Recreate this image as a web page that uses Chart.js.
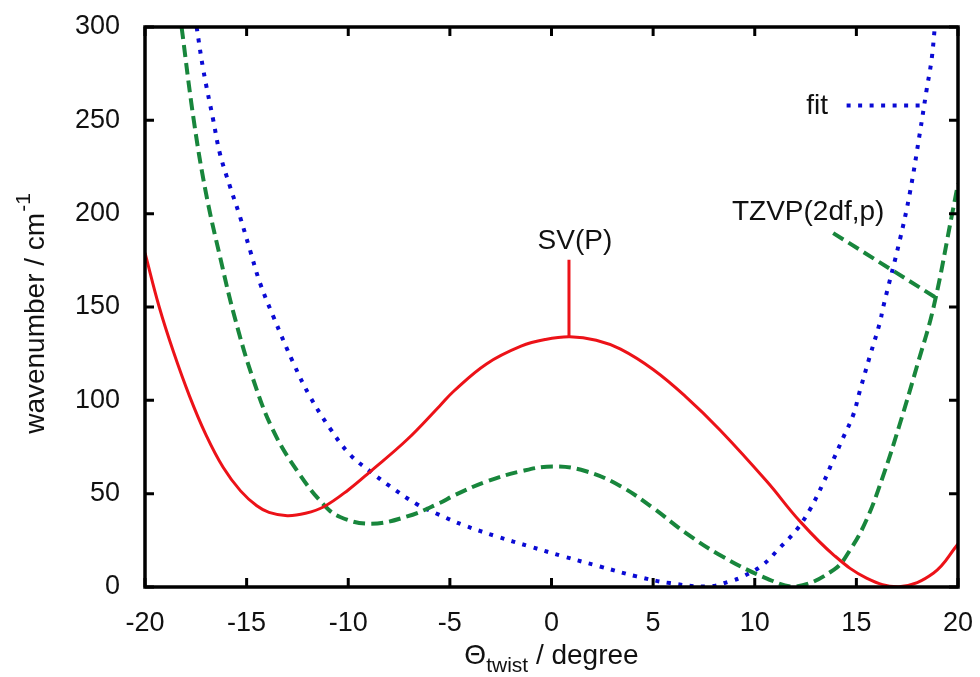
<!DOCTYPE html>
<html>
<head>
<meta charset="utf-8">
<script src="https://cdn.jsdelivr.net/npm/chart.js@4.4.1/dist/chart.umd.min.js"></script>
<style>
html, body { margin: 0; padding: 0; background: #fff; }
#wrap { width: 980px; height: 677px; }
</style>
</head>
<body>
<div id="wrap"><canvas id="twistChart" width="980" height="677"></canvas></div>
<script>
// SV(P) curve (solid red)
const svpTheta = [-20, -19.3, -18.6, -17.8, -17.0, -16.15, -15.3, -14.5, -13.9, -13.0, -12.1, -11.2, -10.0, -8.9, -7.1, -5.5, -4.8, -3.2, -1.5, -0.3, 0.9, 2.2, 3.4, 5.0, 6.6, 8.3, 10.6, 12.2, 13.9, 15.5, 17.1, 18.8, 20];
const svpWave  = [179, 150, 126, 102, 81.5, 64, 51.5, 43.5, 40, 38.2, 39.5, 43, 52, 62, 79, 97, 105, 119.5, 129, 132.6, 134, 132.2, 127.4, 116.5, 102, 84, 56.5, 35.5, 17, 4.8, 0.2, 7.5, 23];

// TZVP(2df,p) curve (dashed green)
const tzvpTheta = [-18.2, -17.6, -17.0, -16.3, -15.6, -14.7, -13.7, -12.5, -11.2, -10.4, -8.9, -7.1, -5.5, -4.8, -3.2, -1.5, 0.1, 1.7, 3.4, 5.0, 6.6, 8.3, 10.6, 12.0, 13.9, 14.7, 15.5, 16.3, 17.1, 18.0, 18.8, 19.75, 20];
const tzvpWave  = [300, 250, 211, 176.5, 145, 112, 84, 62, 44, 37.5, 33.9, 37.8, 45, 49, 56.5, 62, 64.6, 62, 54, 42.3, 29, 17, 4.5, 0.2, 9.3, 20, 36, 59, 86, 119, 150, 202, 216];

// fit curve (dotted blue)
const fitTheta = [-17.46, -17.13, -16.64, -16.31, -15.82, -15.33, -14.84, -14.34, -13.69, -12.7, -11.88, -10.9, -9.92, -8.93, -7.95, -6.64, -5.49, -4.34, -2.7, -1.06, 0.58, 2.38, 4.19, 5.82, 7.7, 8.77, 9.43, 10.41, 11.23, 12.06, 12.71, 13.37, 13.86, 14.35, 14.84, 15.17, 15.66, 16.15, 16.32, 17.14, 17.63, 18.12, 18.45, 18.7, 18.86];
const fitWave  = [300, 277, 250, 232, 214.6, 198.5, 180.7, 162.8, 145, 120, 102, 85, 71, 62, 54, 44.5, 38.5, 33.2, 27.1, 21.7, 16.4, 11, 5.7, 2.1, 0.3, 3, 5.7, 12, 21, 30.7, 41.4, 55.7, 68, 80, 92, 105, 123.5, 141.4, 150, 186, 211, 243, 266, 282.5, 300];

// label leader lines
const svpLeaderTheta = [0.86, 0.86];
const svpLeaderWave = [175.3, 133.8];
const tzvpLeaderTheta = [13.86, 18.94];
const tzvpLeaderWave = [189.6, 154.8];
const fitLeaderTheta = [14.52, 18.34];
const fitLeaderWave = [258, 258];

// label texts and anchors (data units)
const labelText = ['SV(P)', 'TZVP(2df,p)', 'fit'];
const labelTheta = [1.15, 12.63, 13.6];
const labelWave = [185, 200.5, 257.4];

// tick values
const xTickValues = [-20, -15, -10, -5, 0, 5, 10, 15, 20];
const yTickValues = [0, 50, 100, 150, 200, 250, 300];

const RED = 'rgb(236,18,24)';
const GREEN = 'rgb(24,134,60)';
const BLUE = 'rgb(10,10,212)';
const FONT = '"Liberation Sans", Arial, Helvetica, sans-serif';

function toPoints(xs, ys) {
    return xs.map((v, i) => ({ x: v, y: ys[i] }));
}

function noOverhang(s) {
    s.paddingTop = 0; s.paddingBottom = 0; s.paddingLeft = 0; s.paddingRight = 0;
}

const frame = {
    id: 'frame',
    afterDatasetsDraw(chart) {
        const { ctx, chartArea: a, scales: { x, y } } = chart;
        ctx.save();
        ctx.strokeStyle = '#000';
        ctx.lineWidth = 3;
        ctx.beginPath();
        xTickValues.forEach(v => {
            const px = x.getPixelForValue(v);
            ctx.moveTo(px, a.bottom); ctx.lineTo(px, a.bottom - 9);
            ctx.moveTo(px, a.top); ctx.lineTo(px, a.top + 9);
        });
        yTickValues.forEach(v => {
            const py = y.getPixelForValue(v);
            ctx.moveTo(a.left, py); ctx.lineTo(a.left + 9, py);
            ctx.moveTo(a.right, py); ctx.lineTo(a.right - 9, py);
        });
        ctx.stroke();
        ctx.lineWidth = 3.5;
        ctx.strokeRect(a.left, a.top, a.right - a.left, a.bottom - a.top);

        // annotation labels
        ctx.fillStyle = '#111';
        ctx.font = '28px ' + FONT;
        ctx.textBaseline = 'middle';
        labelText.forEach((t, i) => {
            ctx.textAlign = t === 'fit' ? 'right' : 'center';
            ctx.fillText(t, x.getPixelForValue(labelTheta[i]), y.getPixelForValue(labelWave[i]));
        });

        // x axis title: Θ_twist / degree
        ctx.textAlign = 'left';
        ctx.textBaseline = 'alphabetic';
        const big = '28px ' + FONT, small = '21px ' + FONT;
        ctx.font = big;
        const w1 = ctx.measureText('\u0398').width;
        const w3 = ctx.measureText(' / degree').width;
        ctx.font = small;
        const w2 = ctx.measureText('twist').width;
        const sx = (a.left + a.right) / 2 - (w1 + w2 + w3) / 2;
        const base = 664;
        ctx.font = big;
        ctx.fillText('\u0398', sx, base);
        ctx.font = small;
        ctx.fillText('twist', sx + w1, base + 8);
        ctx.font = big;
        ctx.fillText(' / degree', sx + w1 + w2, base);

        // y axis title: wavenumber / cm^-1
        ctx.save();
        ctx.translate(44, (a.top + a.bottom) / 2 + 7);
        ctx.rotate(-Math.PI / 2);
        ctx.font = big;
        const m1 = ctx.measureText('wavenumber / cm').width;
        ctx.font = small;
        const m2 = ctx.measureText('-1').width;
        const start = -(m1 + m2) / 2;
        ctx.font = big;
        ctx.fillText('wavenumber / cm', start, 0);
        ctx.font = small;
        ctx.fillText('-1', start + m1 + 1, -14);
        ctx.restore();
        ctx.restore();
    }
};

new Chart('twistChart', {
    type: 'scatter',
    data: {
        datasets: [
            {
                label: 'SV(P)',
                data: toPoints(svpTheta, svpWave),
                showLine: true,
                borderColor: RED,
                borderWidth: 3,
                pointRadius: 0,
                tension: 0.4
            },
            {
                label: 'TZVP(2df,p)',
                data: toPoints(tzvpTheta, tzvpWave),
                showLine: true,
                borderColor: GREEN,
                borderWidth: 4,
                borderDash: [12, 6],
                pointRadius: 0,
                tension: 0.4
            },
            {
                label: 'fit',
                data: toPoints(fitTheta, fitWave),
                showLine: true,
                borderColor: BLUE,
                borderWidth: 4,
                borderDash: [4, 7.5],
                borderCapStyle: 'butt',
                pointRadius: 0,
                tension: 0.4
            },
            {
                data: toPoints(svpLeaderTheta, svpLeaderWave),
                showLine: true, borderColor: RED, borderWidth: 3, pointRadius: 0
            },
            {
                data: toPoints(tzvpLeaderTheta, tzvpLeaderWave),
                showLine: true, borderColor: GREEN, borderWidth: 4, borderDash: [12, 6], pointRadius: 0
            },
            {
                data: toPoints(fitLeaderTheta, fitLeaderWave),
                showLine: true, borderColor: BLUE, borderWidth: 4, borderDash: [4, 7.5], pointRadius: 0
            }
        ]
    },
    options: {
        responsive: false,
        animation: false,
        devicePixelRatio: 1,
        layout: { padding: { top: 27, right: 22, left: 0, bottom: 0 } },
        plugins: { legend: { display: false }, tooltip: { enabled: false } },
        scales: {
            x: {
                type: 'linear',
                min: -20, max: 20,
                grid: { display: false },
                border: { display: false },
                afterBuildTicks: s => { s.ticks = xTickValues.map(v => ({ value: v })); },
                afterFit: s => { s.height = 90; noOverhang(s); },
                ticks: {
                    color: '#111', padding: 12, autoSkip: false, maxRotation: 0,
                    font: { size: 27, family: FONT }
                }
            },
            y: {
                type: 'linear',
                min: 0, max: 300,
                grid: { display: false },
                border: { display: false },
                afterBuildTicks: s => { s.ticks = yTickValues.map(v => ({ value: v })); },
                afterFit: s => { s.width = 145; noOverhang(s); },
                ticks: {
                    color: '#111', padding: 17, autoSkip: false,
                    font: { size: 27, family: FONT }
                }
            }
        }
    },
    plugins: [frame]
});
</script>
</body>
</html>
